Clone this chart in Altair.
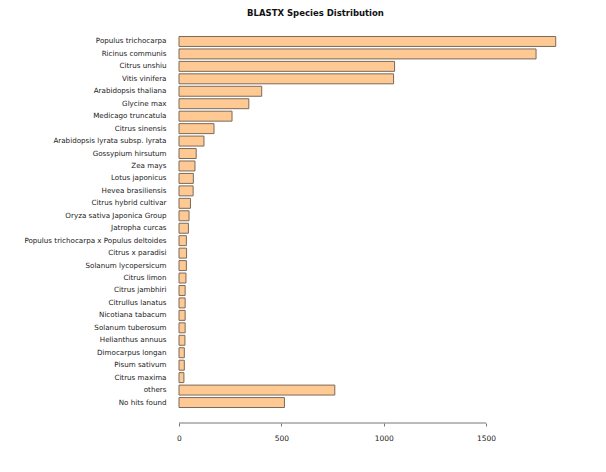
import altair as alt
import pandas as pd

species = [
    "Populus trichocarpa", "Ricinus communis", "Citrus unshiu", "Vitis vinifera",
    "Arabidopsis thaliana", "Glycine max", "Medicago truncatula", "Citrus sinensis",
    "Arabidopsis lyrata subsp. lyrata", "Gossypium hirsutum", "Zea mays",
    "Lotus japonicus", "Hevea brasiliensis", "Citrus hybrid cultivar",
    "Oryza sativa Japonica Group", "Jatropha curcas",
    "Populus trichocarpa x Populus deltoides", "Citrus x paradisi",
    "Solanum lycopersicum", "Citrus limon", "Citrus jambhiri", "Citrullus lanatus",
    "Nicotiana tabacum", "Solanum tuberosum", "Helianthus annuus",
    "Dimocarpus longan", "Pisum sativum", "Citrus maxima", "others", "No hits found",
]
counts = [
    1840, 1744, 1053, 1048, 404, 341, 259, 171, 122, 84, 78, 70, 69, 56, 49, 46,
    36, 37, 36, 34, 30, 30, 30, 30, 29, 26, 26, 24, 761, 515,
]
tick_values = [0, 500, 1000, 1500]

df = pd.DataFrame({"species": species, "count": counts})
axis_df = pd.DataFrame({"start": [tick_values[0]], "end": [tick_values[-1]]})

W, H = 389, 376
FONT = "DejaVu Sans"

x_scale = alt.Scale(domain=[0, 1900], nice=False, zero=True)

bars = alt.Chart(df).mark_bar(
    fill="#FFC994", stroke="#7A6A5A", strokeWidth=1
).encode(
    x=alt.X("count:Q", scale=x_scale,
            axis=alt.Axis(values=tick_values, title=None, domain=False, grid=False,
                          tickColor="#777", tickSize=3, offset=13, labelPadding=8,
                          labelFlush=False,
                          labelFont=FONT, labelFontSize=7.5, labelColor="#222",
                          format="d")),
    y=alt.Y("species:N", sort=species,
            scale=alt.Scale(paddingInner=0.2, paddingOuter=0.2),
            axis=alt.Axis(title=None, domain=False, ticks=False, labelPadding=13,
                          labelFont=FONT, labelFontSize=7.15, labelColor="#222",
                          labelLimit=300)),
)

axis_line = alt.Chart(axis_df).mark_rule(color="#777", strokeWidth=1).encode(
    x=alt.X("start:Q", scale=x_scale),
    x2="end:Q",
    y=alt.value(H + 13),
)

chart = alt.layer(bars, axis_line).properties(
    width=W, height=H,
    autosize=alt.AutoSizeParams(type="none"),
    padding={"left": 171, "top": 26, "right": 30, "bottom": 40},
    title=alt.TitleParams("BLASTX Species Distribution", font=FONT, fontSize=8.5,
                          fontWeight="bold", color="#111", anchor="middle",
                          dx=-58, offset=17),
).configure_view(stroke=None)

chart.save("out.html", embed_options={"renderer": "svg", "actions": False})
